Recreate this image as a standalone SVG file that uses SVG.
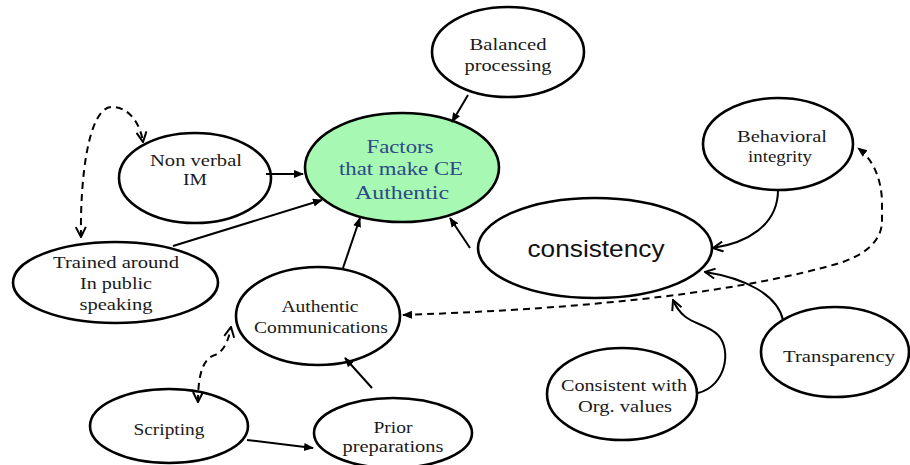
<svg xmlns="http://www.w3.org/2000/svg" width="910" height="465" viewBox="0 0 910 465">
<defs>
<style>
.n{fill:#fff;stroke:#000;stroke-width:2.6}
.g{fill:#a6f8b2;stroke:#000;stroke-width:2.6}
.t{font-family:"Liberation Serif","Times New Roman",serif;font-size:17px;fill:#1a1a1a;text-anchor:middle}
.tb{font-family:"Liberation Serif","Times New Roman",serif;font-size:19px;fill:#2e4a86;text-anchor:middle}
.ts{font-family:"Liberation Sans",Arial,sans-serif;font-size:24px;fill:#111;text-anchor:middle}
.c{fill:none;stroke:#000;stroke-width:2}
.d{fill:none;stroke:#000;stroke-width:2;stroke-dasharray:7 5}
</style>
<marker id="af" viewBox="0 0 10 10" refX="9" refY="5" markerWidth="10" markerHeight="10" orient="auto-start-reverse" markerUnits="userSpaceOnUse">
<path d="M0,1 L10,5 L0,9 z" fill="#000"/>
</marker>
<marker id="ao" viewBox="0 0 12 12" refX="11" refY="6" markerWidth="12" markerHeight="12" orient="auto-start-reverse" markerUnits="userSpaceOnUse">
<path d="M1,1 L11,6 L1,11" fill="none" stroke="#000" stroke-width="2"/>
</marker>
</defs>
<rect width="910" height="465" fill="#fff"/>

<g id="balanced">
<ellipse class="n" cx="508" cy="52" rx="76" ry="45"/>
<text class="t" x="508" y="50" textLength="77" lengthAdjust="spacingAndGlyphs">Balanced</text>
<text class="t" x="508" y="71" textLength="87" lengthAdjust="spacingAndGlyphs">processing</text>
</g>

<g id="factors">
<ellipse class="g" cx="402" cy="167.5" rx="97" ry="54.5"/>
<text class="tb" x="400" y="153" textLength="67" lengthAdjust="spacingAndGlyphs">Factors</text>
<text class="tb" x="401" y="175" textLength="124" lengthAdjust="spacingAndGlyphs">that make CE</text>
<text class="tb" x="402" y="199" textLength="94" lengthAdjust="spacingAndGlyphs">Authentic</text>
</g>

<g id="nonverbal">
<ellipse class="n" cx="195" cy="178" rx="76" ry="45"/>
<text class="t" x="196" y="166" textLength="92" lengthAdjust="spacingAndGlyphs">Non verbal</text>
<text class="t" x="195" y="185" textLength="24" lengthAdjust="spacingAndGlyphs">IM</text>
</g>

<g id="trained">
<ellipse class="n" cx="115.5" cy="282.5" rx="102.5" ry="40.5"/>
<text class="t" x="116" y="268" textLength="126" lengthAdjust="spacingAndGlyphs">Trained around</text>
<text class="t" x="116" y="289" textLength="72" lengthAdjust="spacingAndGlyphs">In public</text>
<text class="t" x="116" y="310" textLength="73" lengthAdjust="spacingAndGlyphs">speaking</text>
</g>

<g id="authcomm">
<ellipse class="n" cx="318" cy="316" rx="82" ry="49"/>
<text class="t" x="320" y="312" textLength="77" lengthAdjust="spacingAndGlyphs">Authentic</text>
<text class="t" x="321" y="333" textLength="134" lengthAdjust="spacingAndGlyphs">Communications</text>
</g>

<g id="scripting">
<ellipse class="n" cx="169" cy="426" rx="79" ry="37"/>
<text class="t" x="169" y="435" textLength="71" lengthAdjust="spacingAndGlyphs">Scripting</text>
</g>

<g id="prior">
<ellipse class="n" cx="393" cy="433" rx="79" ry="35"/>
<text class="t" x="393" y="433" textLength="39" lengthAdjust="spacingAndGlyphs">Prior</text>
<text class="t" x="393" y="452" textLength="101" lengthAdjust="spacingAndGlyphs">preparations</text>
</g>

<g id="consistency">
<ellipse class="n" cx="595" cy="248" rx="117" ry="50"/>
<text class="ts" x="596" y="257" textLength="137" lengthAdjust="spacingAndGlyphs">consistency</text>
</g>

<g id="behavioral">
<ellipse class="n" cx="778" cy="144" rx="75" ry="46"/>
<text class="t" x="782" y="142" textLength="90" lengthAdjust="spacingAndGlyphs">Behavioral</text>
<text class="t" x="780" y="162" textLength="64" lengthAdjust="spacingAndGlyphs">integrity</text>
</g>

<g id="transparency">
<ellipse class="n" cx="835" cy="352" rx="74" ry="45"/>
<text class="t" x="839" y="362" textLength="112" lengthAdjust="spacingAndGlyphs">Transparency</text>
</g>

<g id="orgvalues">
<ellipse class="n" cx="622" cy="394" rx="75" ry="46"/>
<text class="t" x="624" y="391" textLength="126" lengthAdjust="spacingAndGlyphs">Consistent  with</text>
<text class="t" x="625" y="412" textLength="94" lengthAdjust="spacingAndGlyphs">Org. values</text>
</g>

<g id="connectors">
<line class="c" x1="468" y1="95" x2="452" y2="122" marker-end="url(#af)"/>
<line class="c" x1="266" y1="174" x2="303" y2="174" marker-end="url(#af)"/>
<line class="c" x1="173" y1="246" x2="322" y2="200" marker-end="url(#af)"/>
<line class="c" x1="343" y1="268" x2="360" y2="218" marker-end="url(#af)"/>
<line class="c" x1="470" y1="248" x2="450" y2="218" marker-end="url(#af)"/>
<line class="c" x1="372" y1="388" x2="345" y2="358" marker-end="url(#af)"/>
<line class="c" x1="247" y1="440" x2="313" y2="448" marker-end="url(#af)"/>
<path class="d" d="M81,237 C80,180 88,107 112,107 C128,107 140,122 143,142" marker-start="url(#ao)" marker-end="url(#ao)"/>
<path class="d" d="M198,402 C198,372 204,358 215,355 C225,351 229,338 231,327" marker-start="url(#ao)" marker-end="url(#ao)"/>
<path class="d" d="M403,315 Q700,305 843,262 Q881,248 882,222 L882,200 Q880,165 858,148" marker-start="url(#af)" marker-end="url(#af)"/>
<path class="c" d="M778,190 C778,226 746,243 713,248" marker-end="url(#ao)"/>
<path class="c" d="M783,320 C777,294 744,278 705,272" marker-end="url(#ao)"/>
<path class="c" d="M698,393 C726,386 732,350 718,335 C704,321 684,326 673,300" marker-end="url(#ao)"/>
</g>
</svg>
